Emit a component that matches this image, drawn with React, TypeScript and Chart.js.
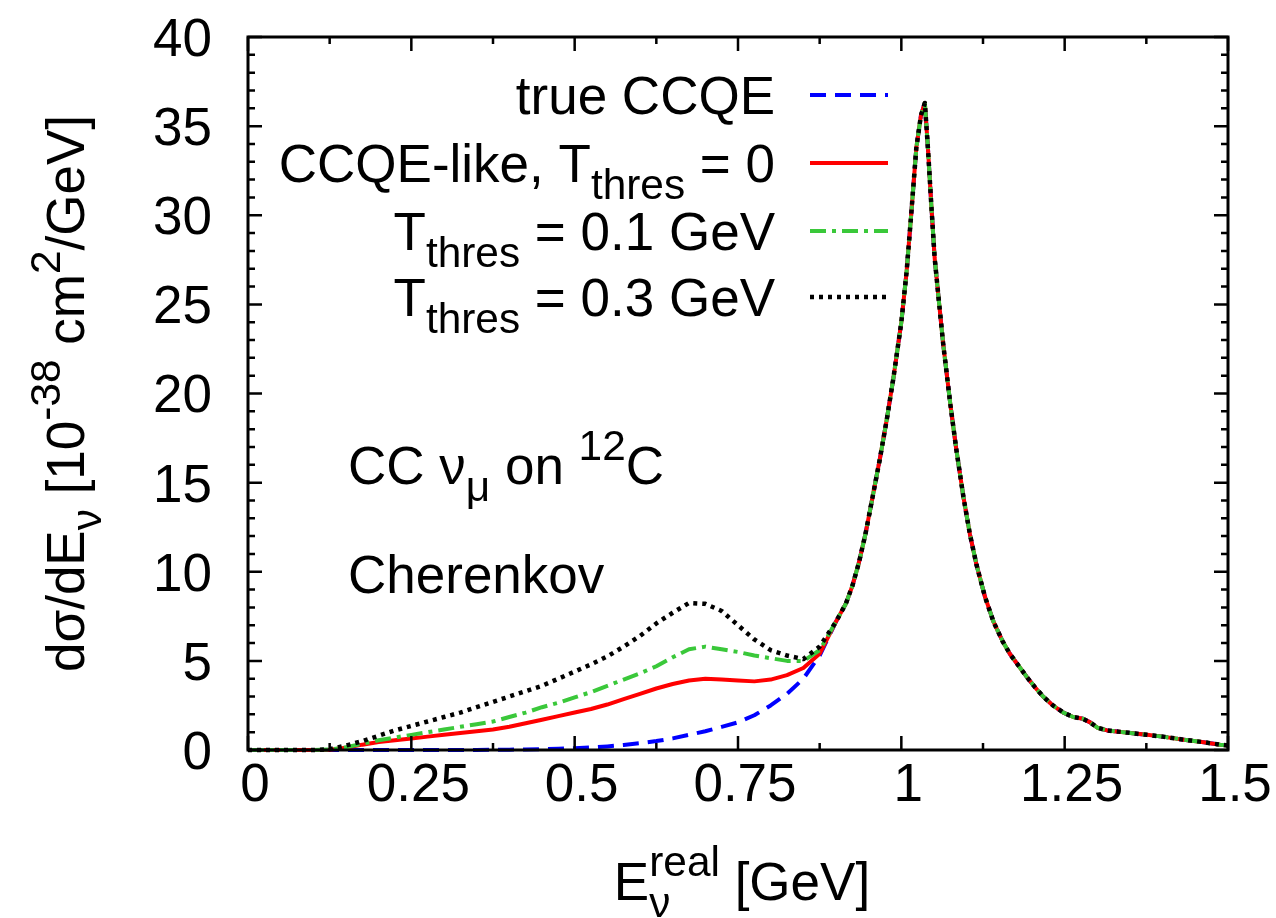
import React, { useEffect, useRef } from 'react';
import { Chart, registerables } from 'chart.js';

Chart.register(...registerables);

const FONT = '"Liberation Sans", Arial, Helvetica, sans-serif';

// ---- data ----
// low-energy part (where the four curves differ), E in GeV
const lowE = [0, 0.025, 0.05, 0.075, 0.1, 0.125, 0.15, 0.175, 0.2, 0.225, 0.25, 0.275, 0.3, 0.325, 0.35, 0.375, 0.4, 0.425, 0.45, 0.475, 0.5, 0.525, 0.55, 0.575, 0.6, 0.625, 0.65, 0.675, 0.7, 0.725, 0.75, 0.775, 0.8, 0.825, 0.85, 0.875];
const trueCCQE = [0, 0, 0, 0, 0, 0, 0, 0, 0, 0, 0, 0, 0, 0, 0, 0.01, 0.02, 0.03, 0.05, 0.07, 0.1, 0.14, 0.2, 0.28, 0.38, 0.5, 0.65, 0.85, 1.05, 1.3, 1.55, 1.95, 2.5, 3.15, 4.0, 5.3];
const ccqeLike0 = [0, 0, 0, 0, 0, 0.02, 0.12, 0.3, 0.45, 0.55, 0.65, 0.75, 0.85, 0.95, 1.05, 1.15, 1.3, 1.5, 1.7, 1.9, 2.1, 2.3, 2.55, 2.85, 3.15, 3.45, 3.7, 3.9, 4.0, 3.95, 3.9, 3.85, 3.95, 4.2, 4.6, 5.4];
const thres01 = [0, 0, 0, 0, 0, 0.03, 0.15, 0.35, 0.55, 0.7, 0.85, 1.0, 1.15, 1.3, 1.45, 1.6, 1.85, 2.1, 2.4, 2.65, 2.95, 3.25, 3.6, 3.95, 4.3, 4.7, 5.2, 5.65, 5.8, 5.65, 5.5, 5.3, 5.15, 5.0, 5.0, 5.6];
const thres03 = [0, 0, 0, 0, 0, 0.05, 0.25, 0.5, 0.8, 1.1, 1.35, 1.6, 1.85, 2.1, 2.4, 2.7, 3.0, 3.3, 3.6, 4.0, 4.4, 4.8, 5.25, 5.8, 6.4, 7.1, 7.7, 8.25, 8.2, 7.8, 7.0, 6.2, 5.6, 5.3, 5.1, 5.8];
// quasi-elastic peak region, where all four curves coincide
const peakE = [0.9, 0.915, 0.925, 0.935, 0.945, 0.955, 0.967, 0.978, 0.988, 1.0, 1.008, 1.015, 1.023, 1.03, 1.036, 1.041, 1.046, 1.051, 1.058, 1.064, 1.075, 1.084, 1.095, 1.105, 1.115, 1.128, 1.141, 1.155, 1.166, 1.18, 1.192, 1.205, 1.217, 1.232, 1.248, 1.263, 1.278, 1.289, 1.3, 1.315, 1.34, 1.376, 1.4, 1.432, 1.46, 1.488, 1.5];
const peakV = [7.2, 8.2, 9.2, 10.5, 12.1, 14.0, 16.3, 18.6, 20.9, 24.0, 26.8, 30.0, 33.8, 35.6, 36.3, 33.6, 30.5, 27.6, 25.0, 22.8, 19.4, 16.9, 14.2, 12.1, 10.4, 8.6, 7.2, 6.1, 5.4, 4.7, 4.1, 3.5, 3.0, 2.5, 2.1, 1.85, 1.75, 1.55, 1.25, 1.1, 1.0, 0.85, 0.75, 0.58, 0.45, 0.3, 0.25];

// ---- axes ----
const xTicks = [0, 0.25, 0.5, 0.75, 1, 1.25, 1.5];
const xTickLabels = ['0', '0.25', '0.5', '0.75', '1', '1.25', '1.5'];
const xMinorStep = 0.125;
const yTicks = [0, 5, 10, 15, 20, 25, 30, 35, 40];
const yTickLabels = ['0', '5', '10', '15', '20', '25', '30', '35', '40'];
const yMinorStep = 1;

type Part = { t?: string; k?: 'sub' | 'sup'; stack?: [string, string] };

const legendRows: { parts: Part[]; color: string; dash: number[]; width: number }[] = [
  { parts: [{ t: 'true CCQE' }], color: '#0000ff', dash: [16, 9], width: 4 },
  { parts: [{ t: 'CCQE-like, T' }, { t: 'thres', k: 'sub' }, { t: ' = 0' }], color: '#ff0000', dash: [], width: 4 },
  { parts: [{ t: 'T' }, { t: 'thres', k: 'sub' }, { t: ' = 0.1 GeV' }], color: '#3ac83a', dash: [16, 6, 4, 6], width: 4 },
  { parts: [{ t: 'T' }, { t: 'thres', k: 'sub' }, { t: ' = 0.3 GeV' }], color: '#000000', dash: [4, 5], width: 4.5 },
];

const FS = 53; // font size

function drawRich(ctx: CanvasRenderingContext2D, parts: Part[], x: number, y: number, align: 'left' | 'right' | 'center', rotate = false) {
  const small = FS * 0.8;
  const fN = `${FS}px ${FONT}`;
  const fS = `${small}px ${FONT}`;
  const widths = parts.map((p) => {
    if (p.stack) {
      ctx.font = fS;
      return Math.max(ctx.measureText(p.stack[0]).width, ctx.measureText(p.stack[1]).width);
    }
    ctx.font = p.k ? fS : fN;
    return ctx.measureText(p.t || '').width;
  });
  const total = widths.reduce((a, b) => a + b, 0);
  ctx.save();
  ctx.translate(x, y);
  if (rotate) ctx.rotate(-Math.PI / 2);
  ctx.fillStyle = '#000';
  ctx.textAlign = 'left';
  ctx.textBaseline = 'alphabetic';
  let cx = align === 'left' ? 0 : align === 'right' ? -total : -total / 2;
  parts.forEach((p, i) => {
    if (p.stack) {
      ctx.font = fS;
      ctx.fillText(p.stack[0], cx, -FS * 0.46);
      ctx.fillText(p.stack[1], cx, FS * 0.33);
    } else {
      ctx.font = p.k ? fS : fN;
      const dy = p.k === 'sup' ? -FS * 0.46 : p.k === 'sub' ? FS * 0.33 : 0;
      ctx.fillText(p.t || '', cx, dy);
    }
    cx += widths[i];
  });
  ctx.restore();
}

const decorPlugin = {
  id: 'gnuplotDecor',
  afterDraw(chart: any) {
    const ctx: CanvasRenderingContext2D = chart.ctx;
    const xs = chart.scales.x;
    const ys = chart.scales.y;
    const { left, right, top, bottom } = chart.chartArea;
    const capHalf = FS * 0.358;
    ctx.save();
    // frame
    ctx.strokeStyle = '#000';
    ctx.lineWidth = 3;
    ctx.setLineDash([]);
    ctx.strokeRect(left, top, right - left, bottom - top);
    // ticks (inward, mirrored)
    ctx.lineWidth = 2.5;
    const majorLen = 14;
    const minorLen = 7;
    ctx.beginPath();
    for (let v = 0; v <= 1.5 + 1e-9; v += xMinorStep) {
      const px = xs.getPixelForValue(v);
      const isMajor = xTicks.some((t) => Math.abs(t - v) < 1e-6);
      const len = isMajor ? majorLen : minorLen;
      ctx.moveTo(px, bottom); ctx.lineTo(px, bottom - len);
      ctx.moveTo(px, top); ctx.lineTo(px, top + len);
    }
    for (let v = 0; v <= 40 + 1e-9; v += yMinorStep) {
      const py = ys.getPixelForValue(v);
      const isMajor = yTicks.some((t) => Math.abs(t - v) < 1e-6);
      const len = isMajor ? majorLen : minorLen;
      ctx.moveTo(left, py); ctx.lineTo(left + len, py);
      ctx.moveTo(right, py); ctx.lineTo(right - len, py);
    }
    ctx.stroke();
    ctx.restore();

    // tick labels
    yTicks.forEach((v, i) => {
      drawRich(ctx, [{ t: yTickLabels[i] }], left - 36, ys.getPixelForValue(v) + capHalf, 'right');
    });
    xTicks.forEach((v, i) => {
      drawRich(ctx, [{ t: xTickLabels[i] }], xs.getPixelForValue(v) + 7, bottom + 32 + capHalf, 'center');
    });

    // axis titles
    drawRich(ctx, [{ t: 'E' }, { stack: ['real', 'ν'] }, { t: ' [GeV]' }], (left + right) / 2 + 4, 900, 'center');
    drawRich(ctx, [{ t: 'dσ/dE' }, { t: 'ν', k: 'sub' }, { t: ' [10' }, { t: '-38', k: 'sup' }, { t: ' cm' }, { t: '2', k: 'sup' }, { t: '/GeV]' }], 84, (top + bottom) / 2, 'center', true);

    // annotations
    drawRich(ctx, [{ t: 'CC ν' }, { t: 'μ', k: 'sub' }, { t: ' on ' }, { t: '12', k: 'sup' }, { t: 'C' }], 348, 484, 'left');
    drawRich(ctx, [{ t: 'Cherenkov' }], 348, 593, 'left');

    // legend
    const rowY = [95, 163, 231, 297];
    legendRows.forEach((r, i) => {
      drawRich(ctx, r.parts, 775, rowY[i] + capHalf, 'right');
      ctx.save();
      ctx.strokeStyle = r.color;
      ctx.lineWidth = r.width;
      ctx.lineCap = 'butt';
      ctx.setLineDash(r.dash);
      ctx.beginPath();
      ctx.moveTo(810, rowY[i]);
      ctx.lineTo(888, rowY[i]);
      ctx.stroke();
      ctx.restore();
    });
  },
};

function pts(e: number[], v: number[]) {
  return e.map((x, i) => ({ x, y: v[i] }));
}

export default function App() {
  const ref = useRef<HTMLCanvasElement>(null);
  useEffect(() => {
    if (!ref.current) return;
    const series = (vals: number[]) => [...pts(lowE, vals), ...pts(peakE, peakV)];
    const chart = new Chart(ref.current, {
      type: 'line',
      data: {
        datasets: [
          { label: 'T_thres = 0.3 GeV', data: series(thres03), borderColor: '#000000', borderWidth: 4.5, borderDash: [4, 5], order: 0 },
          { label: 'T_thres = 0.1 GeV', data: series(thres01), borderColor: '#3ac83a', borderWidth: 4, borderDash: [16, 6, 4, 6], order: 1 },
          { label: 'CCQE-like, T_thres = 0', data: series(ccqeLike0), borderColor: '#ff0000', borderWidth: 4, order: 2 },
          { label: 'true CCQE', data: series(trueCCQE), borderColor: '#0000ff', borderWidth: 4, borderDash: [16, 9], order: 3 },
        ].map((d) => ({ ...d, pointRadius: 0, fill: false, tension: 0, borderCapStyle: 'butt', borderJoinStyle: 'round', clip: 6 })) as any,
      },
      options: {
        animation: false,
        responsive: false,
        maintainAspectRatio: false,
        devicePixelRatio: 1,
        events: [],
        layout: { padding: { left: 248, right: 48, top: 37, bottom: 168 } },
        scales: {
          x: { type: 'linear', min: 0, max: 1.5, display: false },
          y: { type: 'linear', min: 0, max: 40, display: false },
        },
        plugins: { legend: { display: false }, tooltip: { enabled: false }, title: { display: false } },
      },
      plugins: [decorPlugin],
    });
    return () => chart.destroy();
  }, []);
  return (
    <div style={{ position: 'absolute', left: 0, top: 0, width: 1276, height: 918, background: '#fff' }}>
      <canvas ref={ref} width={1276} height={918} style={{ width: 1276, height: 918, display: 'block' }} />
    </div>
  );
}
